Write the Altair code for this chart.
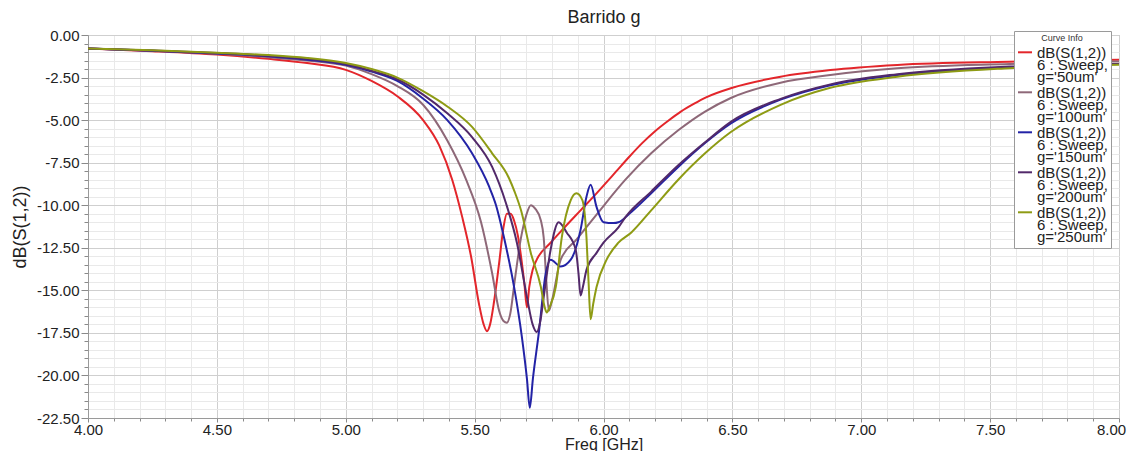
import altair as alt
import pandas as pd

# ---------------- data ----------------
series_labels = ["g='50um'", "g='100um'", "g='150um'", "g='200um'", "g='250um'"]
series_colors = ["#e3262b", "#8e6878", "#2323a6", "#52296a", "#8e9b14"]

freq_50 = [4.00, 4.25, 4.50, 4.70, 4.85, 5.00, 5.10, 5.20, 5.30, 5.363, 5.413, 5.452, 5.486,
           5.517, 5.535, 5.548, 5.56, 5.575, 5.595, 5.612, 5.625, 5.640, 5.653, 5.668, 5.680,
           5.693, 5.703, 5.712, 5.725, 5.741, 5.795, 5.846, 5.911, 5.973, 6.00, 6.05, 6.10,
           6.15, 6.20, 6.25, 6.30, 6.35, 6.40, 6.50, 6.687, 6.88, 7.14, 7.575, 8.00]
db_50 = [-0.80, -0.95, -1.15, -1.40, -1.65, -2.05, -2.70, -3.60, -5.00, -6.50, -8.50, -10.70,
         -13.00, -15.80, -17.0, -17.4, -17.0, -15.7, -13.4, -11.3, -10.5, -10.5, -10.9, -11.8,
         -13.0, -14.6, -16.0, -14.8, -13.8, -13.2, -12.2, -11.35, -10.3, -9.3, -8.85, -8.0,
         -7.15, -6.35, -5.65, -5.05, -4.5, -4.05, -3.65, -3.1, -2.45, -2.06, -1.76, -1.57, -1.45]

freq_100 = [4.00, 4.25, 4.50, 4.70, 4.85, 5.00, 5.10, 5.20, 5.30, 5.394, 5.467, 5.525, 5.568,
            5.595, 5.612, 5.625, 5.638, 5.655, 5.680, 5.700, 5.718, 5.735, 5.757, 5.768, 5.778,
            5.788, 5.800, 5.834, 5.896, 5.981, 6.085, 6.185, 6.29, 6.394, 6.494, 6.687, 6.88,
            7.14, 7.575, 8.00]
db_100 = [-0.80, -0.93, -1.10, -1.30, -1.50, -1.80, -2.30, -3.00, -4.10, -6.20, -8.50, -11.00,
          -14.00, -16.2, -16.8, -16.9, -16.4, -14.5, -11.9, -10.6, -10.0, -10.2, -10.9, -11.9,
          -14.4, -16.2, -15.6, -13.2, -12.0, -10.4, -8.5, -6.95, -5.6, -4.5, -3.7, -2.8, -2.35,
          -1.95, -1.70, -1.55]

freq_150 = [4.00, 4.25, 4.50, 4.70, 4.85, 5.00, 5.10, 5.20, 5.297, 5.394, 5.49, 5.556, 5.583,
            5.614, 5.653, 5.683, 5.703, 5.714, 5.726, 5.749, 5.776, 5.795, 5.834, 5.873, 5.911,
            5.934, 5.950, 5.973, 6.00, 6.039, 6.058, 6.108, 6.185, 6.29, 6.394, 6.494, 6.687,
            6.88, 7.14, 7.575, 8.00]
db_150 = [-0.80, -0.92, -1.08, -1.25, -1.45, -1.75, -2.15, -2.70, -3.70, -5.00, -6.95, -8.9,
          -10.0, -11.9, -14.8, -17.7, -20.2, -21.9, -20.2, -17.5, -14.0, -13.2, -13.6, -13.2,
          -11.45, -9.5, -8.8, -10.1, -11.0, -11.05, -11.0, -10.4, -9.3, -7.75, -6.35, -5.2,
          -3.8, -2.95, -2.35, -1.90, -1.70]

freq_200 = [4.00, 4.25, 4.50, 4.70, 4.85, 5.00, 5.10, 5.20, 5.30, 5.394, 5.49, 5.568, 5.622,
            5.664, 5.703, 5.725, 5.741, 5.755, 5.768, 5.795, 5.826, 5.857, 5.892, 5.903, 5.911,
            5.92, 5.934, 5.973, 6.00, 6.058, 6.085, 6.185, 6.29, 6.394, 6.494, 6.687, 6.88, 7.14,
            7.575, 8.00]
db_200 = [-0.80, -0.91, -1.06, -1.22, -1.40, -1.70, -2.10, -2.60, -3.50, -4.60, -6.00, -7.75,
          -9.9, -12.2, -15.4, -17.0, -17.45, -16.8, -15.4, -12.6, -11.0, -11.6, -12.6, -14.0,
          -15.3, -14.8, -13.8, -12.8, -12.2, -11.3, -10.7, -9.2, -7.65, -6.3, -5.1, -3.75, -2.9,
          -2.3, -1.85, -1.70]

freq_250 = [4.00, 4.25, 4.50, 4.70, 4.85, 5.00, 5.10, 5.20, 5.30, 5.394, 5.49, 5.568, 5.633,
            5.655, 5.68, 5.718, 5.757, 5.772, 5.780, 5.790, 5.815, 5.838, 5.873, 5.895, 5.918,
            5.934, 5.942, 5.950, 5.96, 5.973, 6.012, 6.058, 6.108, 6.185, 6.29, 6.394, 6.494,
            6.687, 6.88, 7.14, 7.575, 8.00]
db_250 = [-0.80, -0.90, -1.04, -1.18, -1.35, -1.65, -2.00, -2.50, -3.30, -4.20, -5.40, -6.95,
          -8.4, -9.2, -10.3, -12.8, -14.8, -16.0, -16.3, -16.0, -14.8, -11.9, -9.7, -9.3, -9.7,
          -11.9, -14.5, -16.7, -15.8, -14.8, -13.2, -12.2, -11.6, -10.3, -8.5, -6.95, -5.7,
          -4.1, -3.1, -2.45, -1.95, -1.75]

# legend text lines shown above each sweep value
legend_line1 = "dB(S(1,2))"
legend_line2 = "6 : Sweep,"
chart_title = "Barrido g"

# axis tick positions (major labels every 0.5 GHz / 2.5 dB, minor grid in between)
x_ticks = [round(4 + 0.1 * i, 1) for i in range(41)]
y_ticks = [round(-0.5 * i, 1) + 0.0 for i in range(46)]

# ---------------- table ----------------
frames = []
for lab, f, d in zip(series_labels,
                     [freq_50, freq_100, freq_150, freq_200, freq_250],
                     [db_50, db_100, db_150, db_200, db_250]):
    frames.append(pd.DataFrame({"freq": f, "db": d, "curve": lab}))
df = pd.concat(frames, ignore_index=True)

REG = "Liberation Sans, Arial, sans-serif"

x_major = "abs(round(datum.value * 10) % 5) == 0"
y_major = "abs(round(datum.value * 10) % 25) == 0"

x_scale = alt.Scale(domain=[4, 8], nice=False, zero=False)
y_scale = alt.Scale(domain=[-22.5, 0], nice=False, zero=False)

x_axis = alt.Axis(
    values=x_ticks,
    title="Freq [GHz]",
    labelExpr=f"{x_major} ? format(datum.value, '.2f') : ''",
    labelFont=REG, labelFontSize=15, labelColor="#222222",
    labelOverlap=False, labelFlush=False, labelPadding=0,
    labelOffset={"condition": {"test": "datum.value > 7.99", "value": -8}, "value": 0},
    titleFont=REG, titleFontSize=16, titleFontWeight="normal", titleColor="#222222",
    titleY=31, titleBaseline="alphabetic",
    grid=True,
    gridColor={"condition": {"test": x_major, "value": "#cfcfcf"}, "value": "#e9e9e9"},
    tickSize={"condition": {"test": x_major, "value": 4}, "value": 3},
    tickColor="#8a8a8a", domainColor="#9a9a9a",
)

# top axis used only to carry the chart title at a fixed distance above the plot
title_axis = alt.Axis(
    orient="top", title=chart_title, labels=False, ticks=False, domain=False, grid=False,
    titleFont=REG, titleFontSize=18, titleFontWeight="normal", titleColor="#222222",
    titleY=-13, titleBaseline="alphabetic",
)

y_axis = alt.Axis(
    values=y_ticks,
    title="dB(S(1,2))",
    labelExpr=f"{y_major} ? ((datum.value < 0 ? '-' : '') + format(abs(datum.value), '.2f')) : ''",
    labelFont=REG, labelFontSize=15, labelColor="#222222",
    labelOverlap=False, labelFlush=False, labelPadding=2,
    titleFont=REG, titleFontSize=18, titleFontWeight="normal", titleColor="#222222",
    titlePadding=7,
    grid=True,
    gridColor={"condition": {"test": y_major, "value": "#cfcfcf"}, "value": "#e9e9e9"},
    tickSize={"condition": {"test": y_major, "value": 7}, "value": 4},
    tickColor="#8a8a8a", domainColor="#9a9a9a",
)

legend = alt.Legend(
    title="Curve Info", titleFontSize=9, titleFont=REG, titleFontWeight="normal",
    titleAnchor="middle", titleColor="#333333", titlePadding=2,
    orient="none", legendX=926, legendY=-4,
    fillColor="white", strokeColor="#9a9a9a", padding=3,
    labelExpr=f"['{legend_line1}', '{legend_line2}', datum.label]",
    labelFont=REG, labelFontSize=15, labelColor="#222222", labelLimit=200,
    labelOffset=4,
    symbolType="M-1,-0.1L1,-0.1", symbolSize=196, symbolStrokeWidth=2,
    rowPadding=-7,
)

lines = alt.Chart(df).mark_line(strokeWidth=2, interpolate="monotone", clip=True).encode(
    x=alt.X("freq:Q", scale=x_scale, axis=x_axis),
    y=alt.Y("db:Q", scale=y_scale, axis=y_axis),
    color=alt.Color("curve:N", scale=alt.Scale(domain=series_labels, range=series_colors),
                    legend=legend, sort=series_labels),
    order=alt.Order("freq:Q"),
)

# invisible layer whose only job is the top axis that holds the title
title_layer = alt.Chart(df).mark_point(opacity=0, size=1).encode(
    x=alt.X("freq:Q", scale=x_scale, axis=title_axis),
)

chart = alt.layer(lines, title_layer).resolve_axis(x="independent").properties(
    width=1031, height=383,
    autosize=alt.AutoSizeParams(type="none"),
    padding={"left": 80, "top": 27, "right": 9, "bottom": 33},
).configure(
    background="white",
    style={"guide-label": {"lineHeight": 12}},
).configure_view(
    stroke="#b0b0b0", strokeWidth=1
)

chart.save("out.html", embed_options={"renderer": "svg", "actions": False})
